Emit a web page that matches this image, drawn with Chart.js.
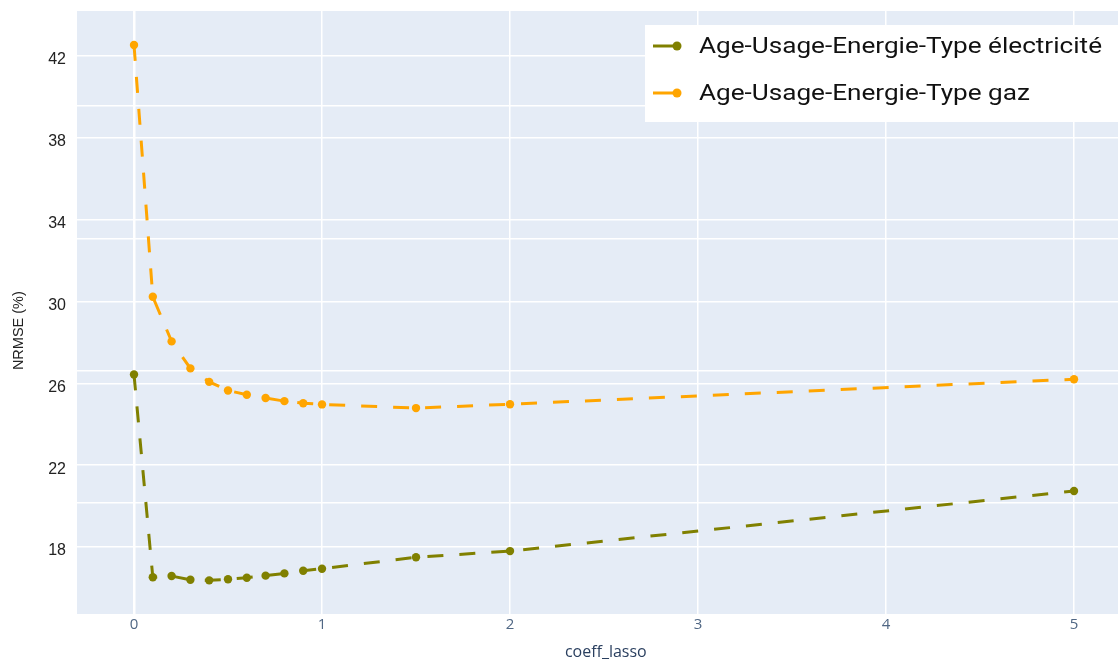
<!DOCTYPE html>
<html><head><meta charset="utf-8">
<script src="https://cdn.jsdelivr.net/npm/chart.js@4.4.1/dist/chart.umd.min.js"></script>
<style>html,body{margin:0;padding:0;background:#fff;overflow:hidden;}</style>
</head><body>
<canvas id="c" width="1118" height="662"></canvas>
<script>
const coeffLasso = [0, 0.1, 0.2, 0.3, 0.4, 0.5, 0.6, 0.7, 0.8, 0.9, 1, 1.5, 2, 5];
const nrmseElec = [26.43, 16.52, 16.58, 16.40, 16.37, 16.42, 16.50, 16.60, 16.71, 16.84, 16.94, 17.50, 17.80, 20.74];
const nrmseGaz = [42.54, 30.23, 28.05, 26.73, 26.07, 25.65, 25.44, 25.28, 25.13, 25.03, 24.97, 24.79, 24.98, 26.20];
const seriesNames = ['Age-Usage-Energie-Type électricité', 'Age-Usage-Energie-Type gaz'];
const seriesColors = ['#808000', '#FFA500'];
const xTicks = [0, 1, 2, 3, 4, 5];
const yTicks = [18, 22, 26, 30, 34, 38, 42];
const yExtraGrid = [20.15, 26.60, 33.06, 39.56];
const xTitle = 'coeff_lasso';
const yTitle = 'NRMSE (%)';

const bgPlugin = {
  id: 'plotBg',
  beforeDraw(chart) {
    const {ctx, chartArea: a} = chart;
    ctx.save();
    ctx.fillStyle = '#E5ECF6';
    ctx.fillRect(a.left, a.top, a.right - a.left, a.bottom - a.top);
    ctx.restore();
  }
};

const legendPlugin = {
  id: 'boxLegend',
  afterDraw(chart) {
    const ctx = chart.ctx;
    const bx = 645, by = 25, bw = 473, bh = 97;
    ctx.save();
    ctx.fillStyle = '#ffffff';
    ctx.fillRect(bx, by, bw, bh);
    ctx.font = '22.5px Roboto';
    const stretch = 403 / ctx.measureText(chart.data.datasets[0].label).width;
    chart.data.datasets.forEach((ds, i) => {
      const cy = by + 21 + i * 47;
      ctx.strokeStyle = ds.borderColor;
      ctx.lineWidth = 3;
      ctx.setLineDash([]);
      ctx.beginPath();
      ctx.moveTo(bx + 8, cy);
      ctx.lineTo(bx + 33, cy);
      ctx.stroke();
      ctx.fillStyle = ds.borderColor;
      ctx.beginPath();
      ctx.arc(bx + 32, cy, 4.5, 0, Math.PI * 2);
      ctx.fill();
      ctx.save();
      ctx.translate(bx + 54, cy + 1);
      ctx.scale(stretch, 1);
      ctx.fillStyle = '#111';
      ctx.textBaseline = 'middle';
      ctx.textAlign = 'left';
      ctx.fillText(ds.label, 0, 0);
      ctx.restore();
    });
    ctx.restore();
  }
};

const zeroPad = s => { s.paddingLeft = 0; s.paddingRight = 0; s.paddingTop = 0; s.paddingBottom = 0; };
const makeData = vals => coeffLasso.map((x, i) => ({x: x, y: vals[i]}));

new Chart(document.getElementById('c'), {
  type: 'line',
  data: {
    datasets: [
      {label: seriesNames[0], data: makeData(nrmseElec), borderColor: seriesColors[0], backgroundColor: seriesColors[0],
       borderWidth: 3, borderDash: [16, 16], pointRadius: 4.2, pointBorderWidth: 0, pointBackgroundColor: seriesColors[0], tension: 0, fill: false},
      {label: seriesNames[1], data: makeData(nrmseGaz), borderColor: seriesColors[1], backgroundColor: seriesColors[1],
       borderWidth: 3, borderDash: [16, 16], pointRadius: 4.2, pointBorderWidth: 0, pointBackgroundColor: seriesColors[1], tension: 0, fill: false}
    ]
  },
  options: {
    responsive: false,
    animation: false,
    devicePixelRatio: 1,
    layout: {autoPadding: false, padding: {top: 11, right: 0, bottom: 0, left: 0}},
    plugins: {legend: {display: false}, tooltip: {enabled: false}},
    scales: {
      x: {
        type: 'linear', min: -0.3032, max: 5.234,
        border: {display: false},
        grid: {color: '#ffffff', lineWidth: c => (c.tick && c.tick.value === 0) ? 2.5 : 1.5, drawTicks: false},
        ticks: {padding: 2, color: '#506784', autoSkip: false, maxRotation: 0, font: {family: '"Open Sans"', size: 15}, callback: v => String(v)},
        afterBuildTicks: s => { s.ticks = xTicks.map(v => ({value: v})); },
        afterFit: s => { s.height = 48; zeroPad(s); },
        title: {display: true, text: '\u00a0'.repeat(4) + xTitle, color: '#2a3f5f', font: {family: '"Open Sans"', size: 16}, padding: {top: 0, bottom: 0}}
      },
      y: {
        type: 'linear', min: 14.725, max: 44.2,
        border: {display: false},
        grid: {color: '#ffffff', lineWidth: 1.5, drawTicks: false},
        ticks: {padding: 11, labelOffset: 4, color: '#222', autoSkip: false, font: {family: '"Liberation Sans", Arial', size: 16},
                callback: v => yTicks.includes(v) ? String(v) : ''},
        afterBuildTicks: s => { s.ticks = [...yTicks, ...yExtraGrid].sort((a, b) => a - b).map(v => ({value: v})); },
        afterFit: s => { s.width = 77; zeroPad(s); },
        title: {display: true, text: yTitle + '\u00a0'.repeat(9), color: '#222', font: {family: '"Liberation Sans", Arial', size: 14.5}, padding: {top: 10, bottom: 0}}
      }
    }
  },
  plugins: [bgPlugin, legendPlugin]
});
</script>
</body></html>
